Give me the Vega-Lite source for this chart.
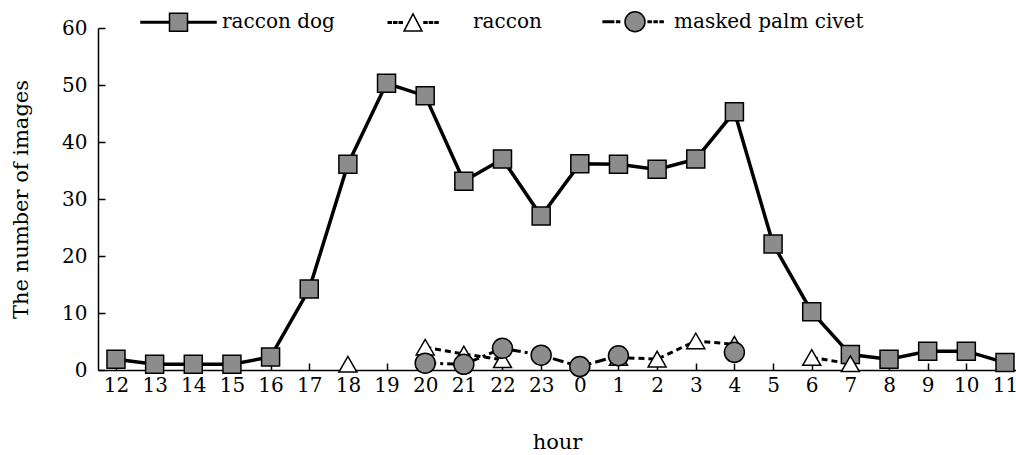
{
  "$schema": "https://vega.github.io/schema/vega-lite/v6.json",
  "autosize": {"type": "none"},
  "width": 918,
  "height": 342,
  "padding": {"left": 98, "top": 28, "right": 0, "bottom": 85},
  "background": "white",
  "config": {
    "view": {"stroke": null},
    "font": "DejaVu Serif",
    "axis": {
      "domainColor": "black", "domainWidth": 1.5, "tickColor": "black", "tickWidth": 1.5, "tickSize": -7,
      "grid": false, "labelFont": "DejaVu Serif", "labelFontSize": 20, "labelColor": "black",
      "titleFont": "DejaVu Serif", "titleFontSize": 21, "titleFontWeight": "normal", "titleColor": "black"
    },
    "legend": {
      "labelFont": "DejaVu Serif", "labelFontSize": 20, "labelColor": "black", "labelOffset": 5,
      "columnPadding": 50, "labelLimit": 400
    }
  },
  "data": {"values": [
    {"hour": "12", "species": "raccon dog", "seg": "d", "n": 1.9},
    {"hour": "13", "species": "raccon dog", "seg": "d", "n": 1.0},
    {"hour": "14", "species": "raccon dog", "seg": "d", "n": 1.0},
    {"hour": "15", "species": "raccon dog", "seg": "d", "n": 1.0},
    {"hour": "16", "species": "raccon dog", "seg": "d", "n": 2.3},
    {"hour": "17", "species": "raccon dog", "seg": "d", "n": 14.2},
    {"hour": "18", "species": "raccon dog", "seg": "d", "n": 36.1},
    {"hour": "19", "species": "raccon dog", "seg": "d", "n": 50.3},
    {"hour": "20", "species": "raccon dog", "seg": "d", "n": 48.1},
    {"hour": "21", "species": "raccon dog", "seg": "d", "n": 33.1},
    {"hour": "22", "species": "raccon dog", "seg": "d", "n": 37.0},
    {"hour": "23", "species": "raccon dog", "seg": "d", "n": 27.0},
    {"hour": "0", "species": "raccon dog", "seg": "d", "n": 36.2},
    {"hour": "1", "species": "raccon dog", "seg": "d", "n": 36.1},
    {"hour": "2", "species": "raccon dog", "seg": "d", "n": 35.2},
    {"hour": "3", "species": "raccon dog", "seg": "d", "n": 37.0},
    {"hour": "4", "species": "raccon dog", "seg": "d", "n": 45.3},
    {"hour": "5", "species": "raccon dog", "seg": "d", "n": 22.1},
    {"hour": "6", "species": "raccon dog", "seg": "d", "n": 10.2},
    {"hour": "7", "species": "raccon dog", "seg": "d", "n": 2.7},
    {"hour": "8", "species": "raccon dog", "seg": "d", "n": 1.9},
    {"hour": "9", "species": "raccon dog", "seg": "d", "n": 3.3},
    {"hour": "10", "species": "raccon dog", "seg": "d", "n": 3.3},
    {"hour": "11", "species": "raccon dog", "seg": "d", "n": 1.3},
    {"hour": "18", "species": "raccon", "seg": "r1", "n": 1.0},
    {"hour": "20", "species": "raccon", "seg": "r2", "n": 4.0},
    {"hour": "21", "species": "raccon", "seg": "r2", "n": 2.8},
    {"hour": "22", "species": "raccon", "seg": "r2", "n": 1.8},
    {"hour": "1", "species": "raccon", "seg": "r3", "n": 2.2},
    {"hour": "2", "species": "raccon", "seg": "r3", "n": 1.9},
    {"hour": "3", "species": "raccon", "seg": "r3", "n": 5.1},
    {"hour": "4", "species": "raccon", "seg": "r3", "n": 4.5},
    {"hour": "6", "species": "raccon", "seg": "r4", "n": 2.2},
    {"hour": "7", "species": "raccon", "seg": "r4", "n": 1.1},
    {"hour": "20", "species": "masked palm civet", "seg": "c1", "n": 1.2},
    {"hour": "21", "species": "masked palm civet", "seg": "c1", "n": 1.0},
    {"hour": "22", "species": "masked palm civet", "seg": "c1", "n": 3.8},
    {"hour": "23", "species": "masked palm civet", "seg": "c1", "n": 2.6},
    {"hour": "0", "species": "masked palm civet", "seg": "c1", "n": 0.6},
    {"hour": "1", "species": "masked palm civet", "seg": "c1", "n": 2.5},
    {"hour": "4", "species": "masked palm civet", "seg": "c2", "n": 3.1}
  ]},
  "encoding": {
    "x": {
      "field": "hour", "type": "ordinal",
      "sort": ["12","13","14","15","16","17","18","19","20","21","22","23","0","1","2","3","4","5","6","7","8","9","10","11"],
      "scale": {"type": "point", "padding": 0.375, "align": 0.62},
      "axis": {"title": "hour", "labelAngle": 0, "labelPadding": 12, "titlePadding": 36}
    },
    "y": {
      "field": "n", "type": "quantitative",
      "scale": {"domain": [0, 60], "nice": false},
      "axis": {"title": "The number of images", "values": [0,10,20,30,40,50,60], "labelPadding": 18, "titlePadding": 30}
    }
  },
  "layer": [
    {
      "transform": [{"filter": "datum.species === 'raccon dog'"}],
      "mark": {"type": "line", "color": "black", "strokeWidth": 3.5},
      "encoding": {"detail": {"field": "seg"}}
    },
    {
      "transform": [{"filter": "datum.species === 'raccon'"}],
      "mark": {"type": "line", "color": "black", "strokeWidth": 3, "strokeDash": [6, 4]},
      "encoding": {"detail": {"field": "seg"}}
    },
    {
      "transform": [{"filter": "datum.species === 'masked palm civet'"}],
      "mark": {"type": "line", "color": "black", "strokeWidth": 3, "strokeDash": [11, 4, 3, 4]},
      "encoding": {"detail": {"field": "seg"}}
    },
    {
      "transform": [{"filter": "datum.species === 'raccon dog'"}],
      "mark": {"type": "point", "filled": true, "fill": "#8c8c8c", "stroke": "black", "strokeWidth": 1.5, "opacity": 1, "size": 400, "shape": "M-0.9,-0.9H0.9V0.9H-0.9Z"}
    },
    {
      "transform": [{"filter": "datum.species === 'raccon'"}],
      "mark": {"type": "point", "filled": true, "fill": "white", "stroke": "black", "strokeWidth": 1.5, "opacity": 1, "size": 400, "shape": "M-0.9,0.78L0.9,0.78L0,-0.78Z"}
    },
    {
      "transform": [{"filter": "datum.species === 'masked palm civet'"}],
      "mark": {"type": "point", "filled": true, "fill": "#8c8c8c", "stroke": "black", "strokeWidth": 1.5, "opacity": 1, "size": 400, "shape": "circle"}
    },
    {
      "transform": [{"filter": "datum.n < 0"}],
      "mark": {"type": "point", "filled": true, "stroke": "black", "strokeWidth": 1.5, "opacity": 1},
      "encoding": {
        "shape": {"field": "species", "type": "nominal",
          "scale": {"domain": ["raccon dog", "raccon", "masked palm civet"], "range": [
            "M-1,-0.02H-0.24V0.02H-1Z M0.24,-0.02H1V0.02H0.24Z M-0.24,-0.24H0.24V0.24H-0.24Z",
            "M-1.1,-0.02H-1.02V0.02H-1.1Z M-0.953,-0.02H-0.873V0.02H-0.953Z M-0.806,-0.02H-0.726V0.02H-0.806Z M-0.147,-0.02H-0.067V0.02H-0.147Z M0,-0.02H0.08V0.02H0Z M0.147,-0.02H0.227V0.02H0.147Z M-0.68,0.23L-0.2,0.23L-0.44,-0.23Z",
            "M-0.73,-0.02H-0.45V0.02H-0.73Z M-0.37,-0.02H-0.29V0.02H-0.37Z M0.47,-0.02H0.55V0.02H0.47Z M0.63,-0.02H0.71V0.02H0.63Z M0.79,-0.02H0.87V0.02H0.79Z M-0.147,0A0.267,0.267,0,1,1,0.387,0A0.267,0.267,0,1,1,-0.147,0Z"
          ]},
          "legend": {
            "title": null, "orient": "none", "legendX": 42, "legendY": -45, "direction": "horizontal", "symbolSize": 5625,
            "encode": {"symbols": {"stroke": {"value": "black"}, "strokeWidth": {"value": 1.5}, "opacity": {"value": 1}}}
          }},
        "fill": {"field": "species", "type": "nominal",
          "scale": {"domain": ["raccon dog", "raccon", "masked palm civet"], "range": ["#8c8c8c", "white", "#8c8c8c"]},
          "legend": {"title": null, "orient": "none", "legendX": 42, "legendY": -45, "direction": "horizontal", "symbolSize": 5625}}
      }
    }
  ]
}
